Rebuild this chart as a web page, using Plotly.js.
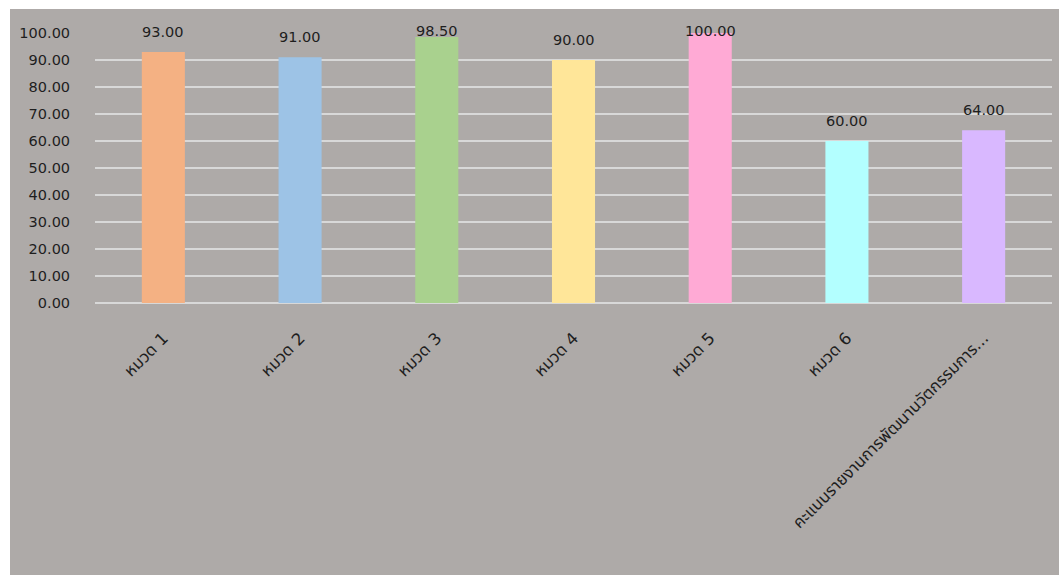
<!DOCTYPE html>
<html>
<head>
<meta charset="utf-8">
<script src="https://cdn.plot.ly/plotly-3.0.1.min.js"></script>
<style>
html,body{margin:0;padding:0;background:#ffffff;}
#chart{position:absolute;left:10px;top:9px;width:1049px;height:566px;}
</style>
</head>
<body>
<div id="chart"></div>
<script>
const categories = ["หมวด 1","หมวด 2","หมวด 3","หมวด 4","หมวด 5","หมวด 6","คะแนนรายงานการพัฒนานวัตกรรมการ..."];
const scores = [93.00, 91.00, 98.50, 90.00, 100.00, 60.00, 64.00];
const barColors = ["#f4b183","#9dc3e6","#a9d18e","#ffe699","#ffaad5","#b3ffff","#d9b8ff"];
const yTickValues = [0,10,20,30,40,50,60,70,80,90,100];

const fontFam = "Tahoma, 'DejaVu Sans', 'Noto Sans Thai', sans-serif";

const trace = {
  type: "bar",
  x: categories,
  y: scores,
  marker: {color: barColors, line: {width: 0}},
  hoverinfo: "none"
};

const annotations = categories.map((c, i) => ({
  x: c,
  y: scores[i],
  xref: "x",
  yref: "y",
  text: scores[i].toFixed(2),
  showarrow: false,
  yanchor: "middle",
  xanchor: "center",
  yshift: Math.min(20, (100 - scores[i]) * 2.7 + 2),
  font: {family: fontFam, size: 14.5, color: "#1e1e1e"}
}));

const layout = {
  width: 1049,
  height: 566,
  margin: {l: 85, r: 7, t: 24, b: 272},
  paper_bgcolor: "#aeaaa8",
  plot_bgcolor: "#aeaaa8",
  bargap: 0.685,
  showlegend: false,
  font: {family: fontFam, color: "#1e1e1e"},
  xaxis: {
    type: "category",
    tickangle: -45,
    tickfont: {family: fontFam, size: 16.5, color: "#1e1e1e"},
    showgrid: false,
    showline: false,
    zeroline: false,
    ticks: "outside",
    ticklen: 18,
    tickcolor: "rgba(0,0,0,0)",
    fixedrange: true
  },
  yaxis: {
    range: [0, 100],
    tickvals: yTickValues,
    tickformat: ".2f",
    tickfont: {family: fontFam, size: 14.5, color: "#1e1e1e"},
    showgrid: true,
    gridcolor: "#d8d8d8",
    gridwidth: 1.5,
    zeroline: true,
    zerolinecolor: "#d8d8d8",
    zerolinewidth: 1.5,
    showline: false,
    ticks: "outside",
    ticklen: 21,
    tickcolor: "rgba(0,0,0,0)",
    fixedrange: true
  },
  annotations: annotations
};

Plotly.newPlot("chart", [trace], layout, {displayModeBar: false, staticPlot: true});
</script>
</body>
</html>
